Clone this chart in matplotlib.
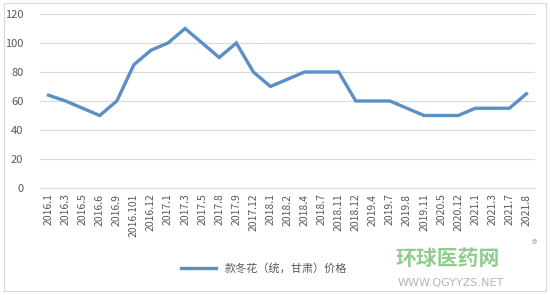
import matplotlib.pyplot as plt
from matplotlib.lines import Line2D
from matplotlib.patches import Rectangle

plt.rcParams['font.family'] = ['Noto Sans CJK SC', 'DejaVu Sans']

# Month labels along the x axis
labels = ["2016.1", "2016.3", "2016.5", "2016.6", "2016.9", "2016.101", "2016.12",
          "2017.1", "2017.3", "2017.5", "2017.8", "2017.9", "2017.12",
          "2018.1", "2018.2", "2018.4", "2018.7", "2018.11", "2018.12",
          "2019.4", "2019.7", "2019.8", "2019.11", "2020.5", "2020.12",
          "2021.1", "2021.3", "2021.7", "2021.8"]

# Price series
prices = [64, 60, 55, 50, 60, 85, 95,
          100, 110, 100, 90, 100, 80,
          70, 75, 80, 80, 80, 60,
          60, 60, 55, 50, 50, 50,
          55, 55, 55, 65]

series_name = "款冬花（统，甘肃）价格"

fig = plt.figure(figsize=(5.5, 2.95), dpi=100)
ax = fig.add_axes([40 / 550, 1 - 188 / 295, 495 / 550, 174 / 295])

# light frame around the whole chart
fig.patches.append(Rectangle((0.008, 0.015), 0.984, 0.975, transform=fig.transFigure,
                             fill=False, edgecolor="#d9d9d9", linewidth=0.8))

x = list(range(len(labels)))
ax.plot(x, prices, color="#5b8fc7", linewidth=2.4, solid_joinstyle="miter")

ax.set_xlim(-0.5, len(labels) - 0.5)
ax.set_ylim(0, 120)
ax.set_yticks(range(0, 121, 20))
ax.set_xticks(x)
ax.set_xticklabels(labels, rotation=90, fontsize=7.5, color="#595959")
ax.tick_params(axis="y", labelsize=8, colors="#595959", length=0, pad=12)
ax.tick_params(axis="x", length=0, pad=4)

ax.grid(axis="y", color="#d9d9d9", linewidth=0.8)
ax.set_axisbelow(True)
for s in ["top", "right", "left"]:
    ax.spines[s].set_visible(False)
ax.spines["bottom"].set_color("#d9d9d9")

handle = Line2D([], [], color="#5b8fc7", linewidth=2.4)
fig.legend([handle], [series_name], loc="center", bbox_to_anchor=(0.48, 0.09),
           frameon=False, fontsize=8, handlelength=3.2, labelcolor="#595959")

# watermark
fig.text(0.815, 0.125, "环球医药网", fontsize=15, color="#7cc47a", ha="center",
         va="center", weight="bold", alpha=0.85)
fig.text(0.972, 0.17, "®", fontsize=8, color="#aaaaaa", ha="center", va="center")
fig.text(0.82, 0.04, "WWW.QGYYZS.NET", fontsize=8, color="#b5b5b5", ha="center",
         va="center", family=["DejaVu Sans"])

fig.savefig("out.png", dpi=100)
